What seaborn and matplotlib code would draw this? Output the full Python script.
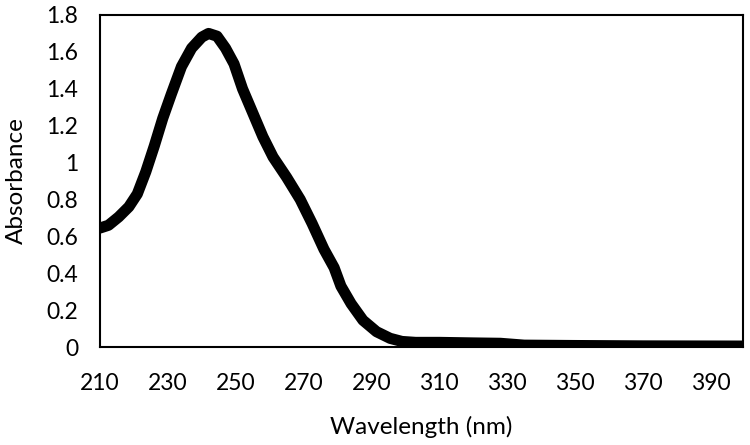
import matplotlib
matplotlib.use("Agg")
import matplotlib.pyplot as plt
import seaborn as sns
import pandas as pd

wavelength = [210, 212.5, 215.5, 218.5, 221, 223.5, 226, 228.5, 231, 234, 237, 240, 242,
              244.5, 247, 249.5, 252, 255, 258, 261, 265, 269, 272.5, 276, 279, 281, 284,
              287.5, 291.5, 295.5, 299, 303, 310, 320, 328, 335, 350, 370, 399.5]
absorbance = [0.645, 0.66, 0.705, 0.76, 0.83, 0.95, 1.09, 1.24, 1.37, 1.52, 1.62, 1.68, 1.70,
              1.685, 1.62, 1.535, 1.40, 1.27, 1.14, 1.03, 0.92, 0.80, 0.67, 0.53, 0.43, 0.33,
              0.235, 0.145, 0.083, 0.047, 0.03, 0.025, 0.025, 0.022, 0.02, 0.01, 0.008, 0.006, 0.005]
x_ticks = [210, 230, 250, 270, 290, 310, 330, 350, 370, 390]
y_ticks = [0, 0.2, 0.4, 0.6, 0.8, 1, 1.2, 1.4, 1.6, 1.8]
y_tick_labels = ["0", "0.2", "0.4", "0.6", "0.8", "1", "1.2", "1.4", "1.6", "1.8"]

df = pd.DataFrame({"Wavelength (nm)": wavelength, "Absorbance": absorbance})

sns.set_style("white")
plt.rcParams["font.family"] = ["Lato", "DejaVu Sans"]

fig, ax = plt.subplots(figsize=(7.5, 4.45), dpi=100)
fig.subplots_adjust(left=100 / 750, right=743 / 750, top=1 - 15 / 445, bottom=1 - 347 / 445)

sns.lineplot(data=df, x="Wavelength (nm)", y="Absorbance", ax=ax, color="black",
             linewidth=8, solid_capstyle="round", solid_joinstyle="round")

ax.set_xlim(210, 399.5)
ax.set_ylim(0, 1.8)
ax.set_xticks(x_ticks)
ax.set_yticks(y_ticks)
ax.set_yticklabels(y_tick_labels)

for side in ["left", "bottom", "top", "right"]:
    ax.spines[side].set_visible(True)
    ax.spines[side].set_color("black")
    ax.spines[side].set_linewidth(1.5)

ax.tick_params(axis="both", direction="inout", length=11, width=1.2, color="black",
               labelsize=16.5, labelcolor="black")
ax.tick_params(axis="x", pad=13)
ax.tick_params(axis="y", pad=10)

ax.set_xlabel("Wavelength (nm)", fontsize=17.5, color="black", labelpad=16)
ax.set_ylabel("Absorbance", fontsize=17.5, color="black", labelpad=14)

fig.savefig("out.png", dpi=100)
